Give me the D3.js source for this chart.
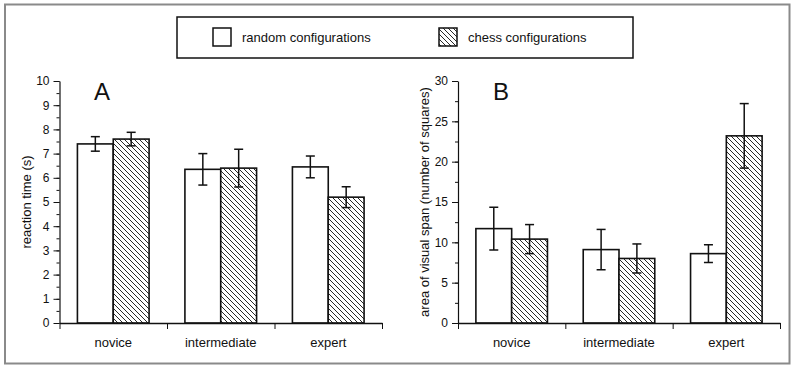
<!DOCTYPE html>
<html>
<head>
<meta charset="utf-8">
<script src="https://cdn.jsdelivr.net/npm/d3@7/dist/d3.min.js"></script>
<style>
  html, body { margin: 0; padding: 0; background: #fff; }
  svg { display: block; font-family: "Liberation Sans", Arial, sans-serif; }
</style>
</head>
<body>
<svg id="chart" width="800" height="369"></svg>
<script>
const categories = ["novice", "intermediate", "expert"];
const seriesNames = ["random configurations", "chess configurations"];
// Panel A: reaction time (s)
const rtRandom = [7.40, 6.35, 6.45];
const rtChess = [7.60, 6.40, 5.20];
const rtRandomErr = [0.30, 0.65, 0.45];
const rtChessErr = [0.28, 0.78, 0.43];
// Panel B: area of visual span (number of squares)
const spanRandom = [11.7, 9.1, 8.6];
const spanChess = [10.4, 8.0, 23.2];
const spanRandomErr = [2.65, 2.5, 1.1];
const spanChessErr = [1.8, 1.8, 4.0];

const svg = d3.select("#chart");

// hatch pattern
const defs = svg.append("defs");
const pat = defs.append("pattern")
  .attr("id", "hatch").attr("patternUnits", "userSpaceOnUse")
  .attr("width", 5).attr("height", 5);
pat.append("rect").attr("width", 5).attr("height", 5).attr("fill", "#fff");
pat.append("path").attr("d", "M-1,-1 L6,6 M-1,4 L1,6 M4,-1 L6,1")
  .attr("stroke", "#111").attr("stroke-width", 0.9);

// outer frame
svg.append("rect").attr("x", 5).attr("y", 4.5).attr("width", 784.5).attr("height", 359)
  .attr("fill", "none").attr("stroke", "#8a8a8a").attr("stroke-width", 2);

// legend
const lg = svg.append("g");
lg.append("rect").attr("x", 177).attr("y", 17).attr("width", 456).attr("height", 41)
  .attr("fill", "#fff").attr("stroke", "#111").attr("stroke-width", 1.5);
const legendItems = [{x: 213, fill: "#fff", label: seriesNames[0]}, {x: 439, fill: "url(#hatch)", label: seriesNames[1]}];
legendItems.forEach(it => {
  lg.append("rect").attr("x", it.x).attr("y", 28).attr("width", 18).attr("height", 18)
    .attr("fill", it.fill).attr("stroke", "#111").attr("stroke-width", 1.5);
  lg.append("text").attr("x", it.x + 29).attr("y", 42).attr("font-size", 13).attr("fill", "#111").text(it.label);
});

function panel(opts) {
  const g = svg.append("g");
  const y = d3.scaleLinear().domain([0, opts.max]).range([323, 81]);
  const x0 = d3.scaleBand().domain(categories).range([opts.x0, opts.x1]).paddingInner(0).paddingOuter(0);
  const x1 = d3.scaleBand().domain([0, 1]).range([0, x0.bandwidth()]).paddingInner(0).paddingOuter(0.5);

  // bars
  const data = [];
  categories.forEach((c, i) => {
    data.push({c, s: 0, v: opts.rand[i], e: opts.randErr[i]});
    data.push({c, s: 1, v: opts.chess[i], e: opts.chessErr[i]});
  });
  g.selectAll("rect.bar").data(data).join("rect").attr("class", "bar")
    .attr("x", d => x0(d.c) + x1(d.s)).attr("width", x1.bandwidth())
    .attr("y", d => y(d.v)).attr("height", d => y(0) - y(d.v))
    .attr("fill", d => d.s === 0 ? "#fff" : "url(#hatch)")
    .attr("stroke", "#111").attr("stroke-width", 1.6);

  // error bars
  const eb = g.selectAll("g.err").data(data).join("g").attr("class", "err")
    .attr("stroke", "#111").attr("stroke-width", 1.5);
  const cx = d => x0(d.c) + x1(d.s) + x1.bandwidth() / 2;
  eb.append("line").attr("x1", cx).attr("x2", cx).attr("y1", d => y(d.v + d.e)).attr("y2", d => y(d.v - d.e));
  eb.append("line").attr("x1", d => cx(d) - 4.5).attr("x2", d => cx(d) + 4.5).attr("y1", d => y(d.v + d.e)).attr("y2", d => y(d.v + d.e));
  eb.append("line").attr("x1", d => cx(d) - 4.5).attr("x2", d => cx(d) + 4.5).attr("y1", d => y(d.v - d.e)).attr("y2", d => y(d.v - d.e));

  // y axis (minor then major)
  const minorTicks = d3.range(0, opts.max + 1e-9, opts.minor);
  g.append("g").attr("transform", `translate(${opts.x0},0)`)
    .call(d3.axisLeft(y).tickValues(minorTicks).tickSize(3).tickFormat(""))
    .call(a => a.select(".domain").remove())
    .call(a => a.selectAll("line").attr("stroke", "#111"));
  const ya = g.append("g").attr("transform", `translate(${opts.x0},0)`)
    .call(d3.axisLeft(y).tickValues(d3.range(0, opts.max + 1e-9, opts.major)).tickSize(6).tickSizeOuter(0).tickPadding(4));
  ya.select(".domain").attr("stroke", "#111").attr("stroke-width", 1.2);
  ya.selectAll("line").attr("stroke", "#111");
  ya.selectAll("text").attr("font-size", 12).attr("fill", "#111").attr("font-family", "Liberation Sans, Arial, sans-serif");

  // x axis: boundary ticks
  const xl = d3.scaleLinear().domain([0, categories.length]).range([opts.x0, opts.x1]);
  const xa = g.append("g").attr("transform", "translate(0,323)")
    .call(d3.axisBottom(xl).tickValues(d3.range(0, categories.length + 1)).tickSize(6).tickSizeOuter(0).tickFormat(""));
  xa.select(".domain").attr("stroke", "#111").attr("stroke-width", 1.5);
  xa.selectAll("line").attr("stroke", "#111");
  const xb = g.append("g").attr("transform", "translate(0,323)")
    .call(d3.axisBottom(x0).tickSize(0).tickPadding(15));
  xb.select(".domain").remove();
  xb.selectAll("text").attr("font-size", 13).attr("fill", "#111").attr("font-family", "Liberation Sans, Arial, sans-serif");

  // panel letter
  g.append("text").attr("x", opts.letterX).attr("y", 100).attr("font-size", 24).attr("fill", "#111").text(opts.letter);

  // y label
  g.append("text").attr("transform", `translate(${opts.labelX},${(y(0) + y(opts.max)) / 2}) rotate(-90)`)
    .attr("text-anchor", "middle").attr("font-size", 13).attr("fill", "#111").text(opts.ylabel);
}

panel({x0: 59.5, x1: 382, max: 10, major: 1, minor: 0.5, rand: rtRandom, chess: rtChess,
  randErr: rtRandomErr, chessErr: rtChessErr, letter: "A", letterX: 94, labelX: 31, ylabel: "reaction time (s)"});
panel({x0: 458, x1: 780, max: 30, major: 5, minor: 2.5, rand: spanRandom, chess: spanChess,
  randErr: spanRandomErr, chessErr: spanChessErr, letter: "B", letterX: 493, labelX: 429, ylabel: "area of visual span (number of squares)"});
</script>
</body>
</html>
